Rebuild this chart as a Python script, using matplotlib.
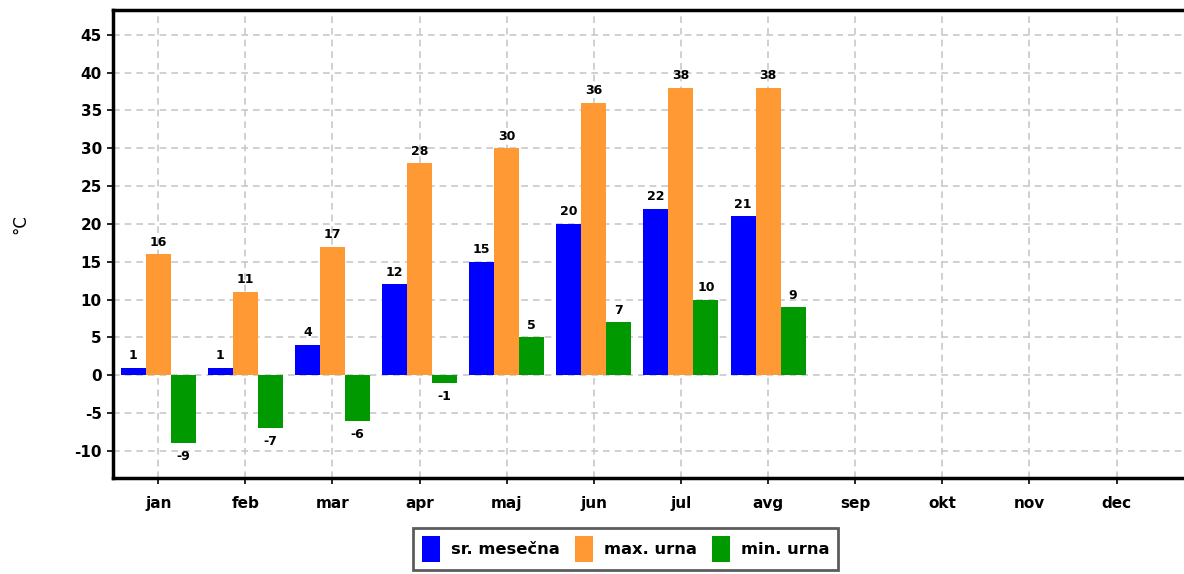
# coding: utf-8

import numpy as np
import matplotlib
matplotlib.use('Agg')
import matplotlib.pyplot as plt

months = ['jan', 'feb', 'mar', 'apr', 'maj', 'jun', 'jul', 'avg', 'sep', 'okt', 'nov', 'dec']
sr_mesecna = [1, 1, 4, 12, 15, 20, 22, 21, None, None, None, None]
max_urna = [16, 11, 17, 28, 30, 36, 38, 38, None, None, None, None]
min_urna = [-9, -7, -6, -1, 5, 7, 10, 9, None, None, None, None]

series = [('sr. mesečna', sr_mesecna, '#0000ff'),
          ('max. urna', max_urna, '#ff9933'),
          ('min. urna', min_urna, '#009900')]

plt.rcParams['font.family'] = ['DejaVu Sans']
plt.rcParams['axes.unicode_minus'] = False

fig = plt.figure(figsize=(11.84, 5.74), dpi=100)
ax = fig.add_axes([0.0954, 0.167, 0.93, 0.816])

x = np.arange(len(months))
width = 0.287

for i, (name, vals, color) in enumerate(series):
    v = np.array([np.nan if a is None else a for a in vals], dtype=float)
    pos = x + (i - 1) * width
    ax.bar(pos, v, width, color=color, label=name, zorder=3)
    for px, val in zip(pos, v):
        if np.isnan(val):
            continue
        if val >= 0:
            ax.annotate('%d' % val, (px, val), xytext=(0, 4), textcoords='offset points',
                        ha='center', va='bottom', fontsize=9, fontweight='bold')
        else:
            ax.annotate('%d' % val, (px, val), xytext=(0, -5), textcoords='offset points',
                        ha='center', va='top', fontsize=9, fontweight='bold')

ax.set_xlim(-0.52, 12.12)
ax.set_ylim(-13.6, 48.3)
ax.set_yticks(np.arange(-10, 50, 5))
ax.set_xticks(x)
ax.set_xticklabels(months)
ax.grid(True, color='#c8c8c8', linestyle=(0, (4, 3)), linewidth=1.2, zorder=0)

for lab in ax.get_xticklabels() + ax.get_yticklabels():
    lab.set_fontweight('bold')
    lab.set_fontsize(11)

ax.tick_params(axis='both', length=4, width=1.2, direction='out', pad=4)
ax.tick_params(axis='x', pad=9)

for s in ['left', 'bottom', 'top']:
    ax.spines[s].set_linewidth(2.5)
ax.spines['right'].set_visible(False)

fig.text(20 / 1184, 1 - 224 / 574, '°C', rotation=90, fontsize=12,
         ha='center', va='center')

leg = fig.legend(loc='upper center', bbox_to_anchor=(0.5285, 0.080), ncol=3,
                 frameon=True, fancybox=False, edgecolor='#333333',
                 handlelength=1.1, handleheight=2.0, handletextpad=0.7,
                 columnspacing=0.9, borderpad=0.5, borderaxespad=0,
                 prop={'weight': 'bold', 'size': 11.8})
leg.get_frame().set_linewidth(2)

fig.savefig('out.png', dpi=100)
